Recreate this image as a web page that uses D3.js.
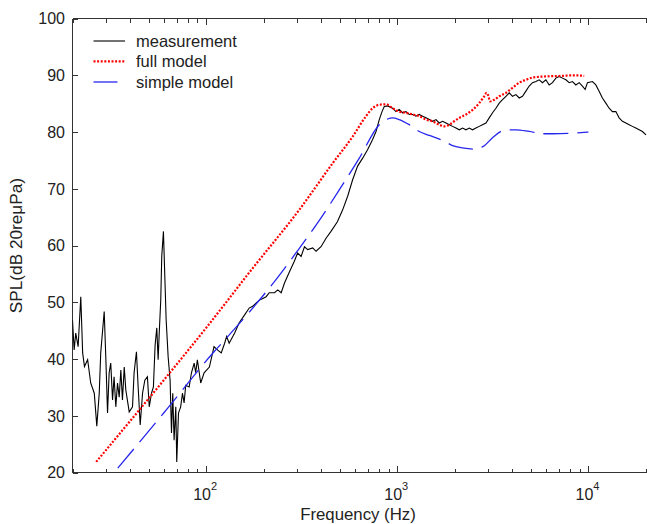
<!DOCTYPE html>
<html><head><meta charset="utf-8">
<script src="https://cdn.jsdelivr.net/npm/d3@7"></script>
<style>body{margin:0;background:#fff}svg{display:block}text{font-family:"Liberation Sans",Arial,sans-serif;fill:#222}</style>
</head><body>
<script>
const measFreq=[20,20.4,20.8,21.4,22.1,22.6,23.1,24.0,24.9,26.0,26.8,27.6,28.1,29.3,29.9,30.5,31.1,31.7,32.4,33.0,33.7,34.4,35.1,35.8,36.5,37.3,38.0,39.6,41.2,42.0,43.2,44.1,45.2,46.5,47.8,49.3,50.4,51.8,53.0,54.1,55.2,56.1,56.8,57.9,58.6,59.8,60.8,61.8,63.3,64.8,65.9,66.9,68.0,69.4,70.2,71.7,73.6,75.2,76.7,78.2,81.5,83.8,86.6,88.2,90.0,93.7,97.6,104,110,115,120,125,128,132,141,149,159,168,175,183,190,198,206,214,228,237,247,257,273,289,301,314,327,340,361,376,399,424,450,486,518,550,584,620,659,699,743,774,805,832,855,890,945,984,1024,1066,1110,1155,1202,1252,1303,1356,1413,1470,1530,1594,1658,1726,1798,1871,1947,2027,2110,2195,2287,2379,2475,2578,2683,2792,2909,3027,3150,3281,3414,3553,3701,3851,4007,4174,4343,4519,4708,4898,5097,5309,5525,5748,5988,6231,6483,6754,7028,7313,7618,7927,8248,8592,8941,9303,9610,9880,10490,10930,11370,11830,12330,12830,13350,13910,14470,15060,15690,16320,16980,17690,18410,19160,20000];
const measDb=[46.9,41.6,44.6,42.2,51.0,41.1,38.7,39.9,35.8,34.0,28.2,34.0,41.1,48.4,39.9,30.5,37.6,39.3,32.8,36.9,31.6,35.8,33.3,38.1,32.8,38.6,34.6,30.7,31.6,37.6,41.3,35.1,28.4,34.0,36.3,36.9,31.6,34.0,35.1,42.5,45.5,39.9,44.3,50.4,58.1,62.5,54.6,46.9,40.4,36.3,27.0,34.0,25.7,31.6,21.9,30.5,31.6,34.0,32.3,35.4,35.1,37.6,39.3,37.6,39.9,35.8,37.6,38.6,42.2,41.6,41.1,42.8,44.0,42.8,44.6,46.4,47.8,49.0,49.3,49.9,50.4,50.7,51.0,51.7,51.7,52.2,51.7,53.4,55.4,57.2,58.7,58.1,59.8,59.3,59.6,59.0,59.8,61.3,62.5,64.2,66.3,68.7,71.6,74.0,75.4,76.9,78.7,80.1,82.2,83.6,84.5,84.6,84.2,83.6,84.0,83.4,83.6,83.1,83.1,82.8,83.1,82.8,82.5,82.2,81.9,82.2,81.6,81.9,81.6,81.3,81.0,80.7,80.4,80.7,80.4,80.7,80.4,80.7,81.0,81.3,81.6,82.5,83.4,84.2,85.1,85.7,86.3,86.9,86.3,86.6,86.0,86.3,87.2,88.1,88.7,88.9,89.2,88.7,89.2,88.3,88.7,89.5,89.8,89.5,89.2,88.7,88.9,88.3,88.7,88.1,87.5,88.7,88.9,88.3,87.2,86.0,85.1,84.2,83.6,83.6,82.5,81.9,81.6,81.3,81.0,80.7,80.4,80.1,79.5];
const fullFreq=[26.6,65.3,100,175,307,459,584,686,743,805,873,945,1024,1110,1202,1303,1413,1530,1658,1761,1871,1986,2110,2287,2475,2683,2850,2930,3001,3052,3215,3414,3701,4007,4343,4708,5097,5988,7313,8248,9500];
const fullDb=[21.9,37.8,45.5,56.0,66.3,74.5,79.2,82.8,84.2,84.8,84.9,84.2,83.6,83.4,83.1,82.8,82.2,81.9,81.3,81.0,81.3,81.9,82.5,83.1,83.9,85.1,86.3,86.9,86.3,85.4,85.7,86.3,86.9,87.8,88.7,89.2,89.6,89.8,89.9,90.0,89.9];
const simpleFreq=[34.5,60.3,110,130,238,295,383,497,633,805,890,945,1024,1155,1303,1470,1761,1947,2195,2526,2850,3150,3626,4174,4898,5748,6483,8248,10000];
const simpleDb=[20.8,30.6,41.3,44.0,54.5,58.7,64.0,69.8,75.4,81.3,82.3,82.5,82.2,81.3,80.1,79.4,78.4,77.6,77.2,77.0,77.6,79.0,80.3,80.4,80.1,79.7,79.7,79.8,80.0];
const yTicks=[20,30,40,50,60,70,80,90,100];
const xMajor=[100,1000,10000];
const xMajorExp=["2","3","4"];
const seriesNames=["measurement","full model","simple model"];

const W=647,H=524;
const svg=d3.select("body").append("svg").attr("width",W).attr("height",H);
const x=d3.scaleLog().domain([20,20000]).range([72.5,646]);
const y=d3.scaleLinear().domain([20,100]).range([472.7,18.5]);
const L=72.5,R=646,T=18.5,B=472.7;

svg.append("defs").append("clipPath").attr("id","clip").append("rect")
  .attr("x",L).attr("y",T).attr("width",R-L+2).attr("height",B-T);

const minor=[];
for(let dec=10;dec<=10000;dec*=10){for(let k=2;k<=9;k++){const v=dec*k;if(v>=20&&v<=20000)minor.push(v);}}
const axG=svg.append("g").attr("stroke","#333").attr("stroke-width",1).attr("shape-rendering","crispEdges");
minor.forEach(v=>{const px=Math.round(x(v))+0.5;
  axG.append("line").attr("x1",px).attr("x2",px).attr("y1",B).attr("y2",B-4);
  axG.append("line").attr("x1",px).attr("x2",px).attr("y1",T).attr("y2",T+4);});
xMajor.forEach(v=>{const px=Math.round(x(v))+0.5;
  axG.append("line").attr("x1",px).attr("x2",px).attr("y1",B).attr("y2",B-7);
  axG.append("line").attr("x1",px).attr("x2",px).attr("y1",T).attr("y2",T+6);});
yTicks.forEach(v=>{const py=Math.round(y(v))+0.5;
  axG.append("line").attr("x1",L).attr("x2",L+5).attr("y1",py).attr("y2",py);});
axG.append("line").attr("x1",L).attr("x2",W).attr("y1",B).attr("y2",B);
axG.append("line").attr("x1",L).attr("x2",W).attr("y1",T).attr("y2",T);
axG.append("line").attr("x1",L).attr("x2",L).attr("y1",T).attr("y2",B);

yTicks.forEach(v=>{svg.append("text").attr("x",65).attr("y",y(v)).attr("dy","0.36em")
  .attr("text-anchor","end").attr("font-size",16).text(v);});
xMajor.forEach((v,i)=>{const t=svg.append("text").attr("x",x(v)-1).attr("y",500)
  .attr("text-anchor","middle").attr("font-size",16);
  t.append("tspan").text("10");
  t.append("tspan").attr("font-size",11).attr("dy",-10.5).text(xMajorExp[i]);});
svg.append("text").attr("x",358).attr("y",519.5).attr("text-anchor","middle").attr("font-size",16.8).text("Frequency (Hz)");
svg.append("text").attr("transform","translate(21.5,245.6) rotate(-90)").attr("text-anchor","middle").attr("font-size",17.2).text("SPL(dB 20reμPa)");

const line=d3.line().x(d=>x(d[0])).y(d=>y(d[1]));
const sline=d3.line().x(d=>x(d[0])).y(d=>y(d[1])).curve(d3.curveMonotoneX);
const plot=svg.append("g").attr("clip-path","url(#clip)");
plot.append("path").datum(d3.zip(measFreq,measDb)).attr("d",line)
  .attr("fill","none").attr("stroke","#000").attr("stroke-width",1.1).attr("stroke-linejoin","miter");
plot.append("path").datum(d3.zip(simpleFreq,simpleDb)).attr("d",sline)
  .attr("fill","none").attr("stroke","#2626ee").attr("stroke-width",1.3).attr("stroke-dasharray","25,9");
plot.append("path").datum(d3.zip(fullFreq,fullDb)).attr("d",sline)
  .attr("fill","none").attr("stroke","#ff0000").attr("stroke-width",2.2).attr("stroke-dasharray","2,1.6");

const legY=[41,61.3,82];
const styles=[{c:"#000",w:1.1,d:null},{c:"#ff0000",w:2.2,d:"2,1.6"},{c:"#2626ee",w:1.3,d:"24,9"}];
seriesNames.forEach((n,i)=>{
  const s=styles[i];
  const l=svg.append("line").attr("x1",93.5).attr("x2",125).attr("y1",legY[i]).attr("y2",legY[i])
    .attr("stroke",s.c).attr("stroke-width",s.w);
  if(s.d)l.attr("stroke-dasharray",s.d);
  svg.append("text").attr("x",136).attr("y",legY[i]).attr("dy","0.36em").attr("font-size",16.5).text(n);
});
</script>
</body></html>
